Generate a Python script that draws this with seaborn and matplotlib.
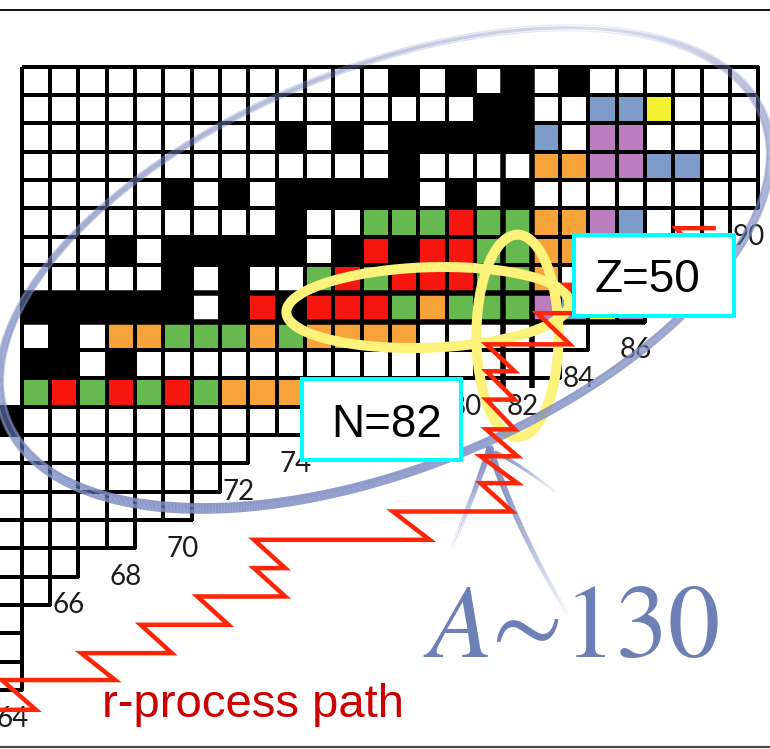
import numpy as np
import pandas as pd
import matplotlib
matplotlib.use("Agg")
import matplotlib.pyplot as plt
import seaborn as sns
from matplotlib.colors import ListedColormap
from matplotlib.patches import Rectangle
from matplotlib.collections import LineCollection
from matplotlib.lines import Line2D

sns.set_theme(style="white")
plt.rcParams["font.family"] = ["Liberation Sans", "DejaVu Sans"]
plt.rcParams["mathtext.fontset"] = "stix"

# ---------------------------------------------------------------- chart data
N_VALUES = list(range(64, 91))          # neutron number, one column each
Z_VALUES = list(range(58, 36, -1))      # proton number, top row first
MAGIC_N = 82
MAGIC_Z = 50

# one character per nucleus from N = 64 rightwards ('.' = no cell)
CELL_ROWS = [
    ".WWWWWWWWWWWWWKWKWKWKWWWWWW",   # Z = 58
    ".WWWWWWWWWWWWWWWWKKWWBBYWWW",   # 57
    ".WWWWWWWWWKWKWKKKKKBWPPWWWW",   # 56
    ".WWWWWWWWWWWWWKWWWWOOPPBBWW",   # 55
    ".WWWWWKWKWKKKKKWKWKWWWWWWWW",   # 54
    ".WWWWWWWWWKWWGGGRGGOOPBWWW",    # 53
    ".WWWKWKKKKKWKRKRRGGOOPBWW",     # 52
    ".WWWWWKWKWWGRGRRRGGOWBWW",      # 51
    ".KKKKKKWKRKRRRGOGGGPBYP",       # 50
    ".WKWOOGGGOGOOOOWWWWWW",         # 49
    ".KKWKWWWWWWWWWWWWWWW",          # 48
    ".GRGRGRGOOOOWWWW",              # 47
    "KWWWWWWWWWWW",                  # 46
    "WWWWWWWWW",                     # 45
    "WWWWWWWW",                      # 44
    "WWWWWWW",                       # 43
    "WWWWW",                         # 42
    "WWW",                           # 41
    "WW",                            # 40
    "W",                             # 39
    "W",                             # 38
    "W",                             # 37
]
CLASS_CODES = ["W", "K", "G", "R", "O", "B", "P", "Y"]
CLASS_COLORS = ["#ffffff", "#000000", "#66b94f", "#f5160f",
                "#f7a33a", "#7e9cc9", "#bb7dbd", "#f3f230"]

# neutron numbers written under the chart
N_LABELS = [64, 66, 68, 70, 72, 74, 80, 82, 84, 86, 90]

# r-process path (N, Z): neutron captures to the right, beta decays up-left
R_PATH_N = [63.4, 65.0, 63.8, 67.8, 66.6, 69.8, 68.7, 71.8, 70.7, 73.8,
            72.7, 73.8, 72.7, 78.9, 77.6, 81.8, 80.7, 82.0, 80.7, 82.0,
            80.9, 81.9, 80.9, 81.9, 80.9, 81.9, 80.9, 83.85, 82.7, 84.9,
            83.7, 86.7, 85.6, 88.4, 87.6, 89.0]
R_PATH_Z = [35.8, 35.8, 36.85, 36.85, 37.8, 37.8, 38.8, 38.8, 39.8, 39.8,
            40.8, 40.8, 41.8, 41.8, 42.8, 42.8, 43.8, 43.8, 44.75, 44.75,
            45.7, 45.7, 46.75, 46.75, 47.75, 47.75, 48.7, 48.7, 49.8, 49.8,
            50.8, 50.8, 51.8, 51.8, 52.8, 52.8]

# ---------------------------------------------------------------- layout
W_PX, H_PX, DPI = 770, 749, 100
CELL_PX = 28.33
GRID_LEFT_PX = -6.63     # left edge of the N = 64 column
GRID_TOP_PX = 66.7       # top edge of the Z = 58 row

n_cols = len(N_VALUES)
values = np.full((len(Z_VALUES), n_cols), np.nan)
for r, row in enumerate(CELL_ROWS):
    row = row.ljust(n_cols, ".")
    assert len(row) == n_cols
    for c, ch in enumerate(row):
        if ch != ".":
            values[r, c] = CLASS_CODES.index(ch)
cells = pd.DataFrame(values, index=Z_VALUES, columns=N_VALUES)
present = ~np.isnan(values)


def nz(N, Z):
    """(N, Z) with cell centres on integers -> heatmap coordinates."""
    return (np.asarray(N, float) - N_VALUES[0] + 0.5,
            Z_VALUES[0] - np.asarray(Z, float) + 0.5)


def ellipse_pts(cN, cZ, a, b, ang, t):
    th = np.radians(ang)
    N = cN + a * np.cos(t) * np.cos(th) - b * np.sin(t) * np.sin(th)
    Z = cZ + a * np.cos(t) * np.sin(th) + b * np.sin(t) * np.cos(th)
    return nz(N, Z)


PT = 72.0 / DPI   # points per pixel

fig = plt.figure(figsize=(W_PX / DPI, H_PX / DPI), dpi=DPI)
ax = fig.add_axes([0, 0, 1, 1])
sns.heatmap(cells, mask=cells.isna(), cmap=ListedColormap(CLASS_COLORS),
            vmin=-0.5, vmax=len(CLASS_CODES) - 0.5, cbar=False,
            linewidths=2.4 * PT, linecolor="black",
            xticklabels=False, yticklabels=False, ax=ax)
# outline only the nuclei that exist
mesh = ax.collections[0]
edge = np.zeros((present.size, 4))
edge[present.ravel(), 3] = 1.0
mesh.set_edgecolor(edge)

ax.set_xlim(-GRID_LEFT_PX / CELL_PX, (W_PX - GRID_LEFT_PX) / CELL_PX)
ax.set_ylim((H_PX - GRID_TOP_PX) / CELL_PX, -GRID_TOP_PX / CELL_PX)
ax.set_axis_off()

# thick outlines of the magic row and column
zi = Z_VALUES.index(MAGIC_Z)
cols = np.where(present[zi])[0]
for y in (zi, zi + 1):
    ax.plot([cols.min(), cols.max() + 1], [y, y], color="black",
            lw=5.5 * PT, solid_capstyle="butt", zorder=2)
nj = N_VALUES.index(MAGIC_N)
rows = np.where(present[:, nj])[0]
for x in (nj, nj + 1):
    ax.plot([x, x], [rows.min(), rows.max() + 1.35], color="black",
            lw=5.5 * PT, solid_capstyle="butt", zorder=2)

# neutron-number labels under the lowest cell of each column
for N in N_LABELS:
    j = N_VALUES.index(N)
    bottom = np.where(present[:, j])[0].max() + 1
    ax.text(j + 0.1, bottom + 1.29, str(N), fontsize=20, color="#1c1c1c",
            family=["Lato", "DejaVu Sans"], ha="left", va="baseline", zorder=2.5)

# yellow rings around the Z = 50 row and the N = 82 column
t = np.linspace(0, 2 * np.pi, 400)
YELLOW = "#fdf27a"
x, y = ellipse_pts(78.84, MAGIC_Z, 5.0, 1.42, 2.0, t)
ax.plot(x, y, color=YELLOW, lw=10 * PT, zorder=5)
x, y = ellipse_pts(MAGIC_N, 49.0, 1.45, 3.57, 0.0, t)
ax.plot(x, y, color=YELLOW, lw=10 * PT, zorder=5)

# brush-like blue loop around the A ~ 130 region
t = np.linspace(0, 2 * np.pi, 1441)
tm = 0.5 * (t[:-1] + t[1:])
t_nodes = np.linspace(0, 2 * np.pi, 9)
w_nodes = np.array([7, 3, 4, 5, 8, 11, 9, 8, 7], float)
a_nodes = np.array([0.55, 0.25, 0.5, 0.65, 0.72, 0.78, 0.72, 0.62, 0.55])
strands = [(0.0, 0.0, 1.0, 1.0, (0.40, 0.47, 0.71)),
           (0.13, 0.10, 0.35, 0.8, (0.58, 0.63, 0.82)),
           (-0.13, -0.10, 0.35, 0.8, (0.55, 0.60, 0.80))]
for da, db, ws, als, col in strands:
    x, y = ellipse_pts(77.32, 51.39, 14.40 + da, 7.06 + db, 22.0, t)
    pts = np.column_stack([x, y])
    segs = np.stack([pts[:-1], pts[1:]], axis=1)
    w = np.interp(tm, t_nodes, w_nodes) * ws * PT
    al = np.interp(tm, t_nodes, a_nodes) * als
    lc = LineCollection(segs, linewidths=w,
                        colors=[(*col, a_) for a_ in al],
                        capstyle="butt", zorder=6)
    ax.add_collection(lc)

# tapered strokes pointing to the A ~ 130 label
POINTER = [((81.03, 45.04), (80.5, 43.5), (79.69, 41.51)),
           ((81.00, 45.10), (81.9, 42.3), (83.78, 39.15)),
           ((81.20, 44.90), (82.2, 44.4), (83.32, 43.49))]
s = np.linspace(0, 1, 120)
for (p0, pc, p1), wmax in zip(POINTER, (5.5, 6.5, 3.0)):
    for off, scale, col in ((0.0, 1.0, (0.40, 0.47, 0.71)),
                            (0.07, 0.45, (0.55, 0.60, 0.80)),
                            (-0.07, 0.45, (0.50, 0.56, 0.78))):
        Nn = (1 - s) ** 2 * p0[0] + 2 * (1 - s) * s * pc[0] + s ** 2 * p1[0] + off
        Zz = (1 - s) ** 2 * p0[1] + 2 * (1 - s) * s * pc[1] + s ** 2 * p1[1]
        x, y = nz(Nn, Zz)
        pts = np.column_stack([x, y])
        segs = np.stack([pts[:-1], pts[1:]], axis=1)
        sm = 0.5 * (s[:-1] + s[1:])
        w = (wmax * (1 - sm) + 0.7) * scale * PT
        al = 0.8 * (1 - sm) + 0.15
        ax.add_collection(LineCollection(segs, linewidths=w,
                                         colors=[(*col, a_) for a_ in al],
                                         capstyle="butt", zorder=6))

# r-process path
x, y = nz(R_PATH_N, R_PATH_Z)
ax.plot(x, y, color="#ff2608", lw=4.5 * PT, solid_joinstyle="miter",
        solid_capstyle="butt", zorder=7)

# labelled boxes
CYAN = "#00ffff"
for (n0, n1, z0, z1) in [(84.0, 89.64, 52.56, 49.70), (74.39, 80.01, 47.48, 44.62)]:
    x0, y0 = nz(n0, z0)
    x1, y1 = nz(n1, z1)
    ax.add_patch(Rectangle((x0, y0), x1 - x0, y1 - y0, facecolor="white",
                           edgecolor=CYAN, lw=4 * PT, zorder=8))
x, y = nz(86.59, 50.55)
ax.text(x, y, f"Z={MAGIC_Z}", fontsize=33, color="black", ha="center",
        va="baseline", zorder=9)
x, y = nz(77.38, 45.43)
ax.text(x, y, f"N={MAGIC_N}", fontsize=33, color="black", ha="center",
        va="baseline", zorder=9)

x, y = nz(67.33, 35.55)
ax.text(x, y, "r-process path", fontsize=34, color="#cc0000", ha="left",
        va="baseline", zorder=9)
x, y = nz(78.67, 37.66)
ax.text(x, y, r"$A$∼130", fontsize=75, color="#6c80b6",
        family=["STIXGeneral", "DejaVu Serif"], ha="left", va="baseline",
        zorder=9)

# page rules
fig.add_artist(Line2D([0, 1], [1 - 10 / H_PX] * 2, color="black", lw=1.3))
fig.add_artist(Line2D([0, 1], [1 - 747 / H_PX] * 2, color="#444444", lw=1.6))

fig.savefig("out.png", dpi=DPI)
